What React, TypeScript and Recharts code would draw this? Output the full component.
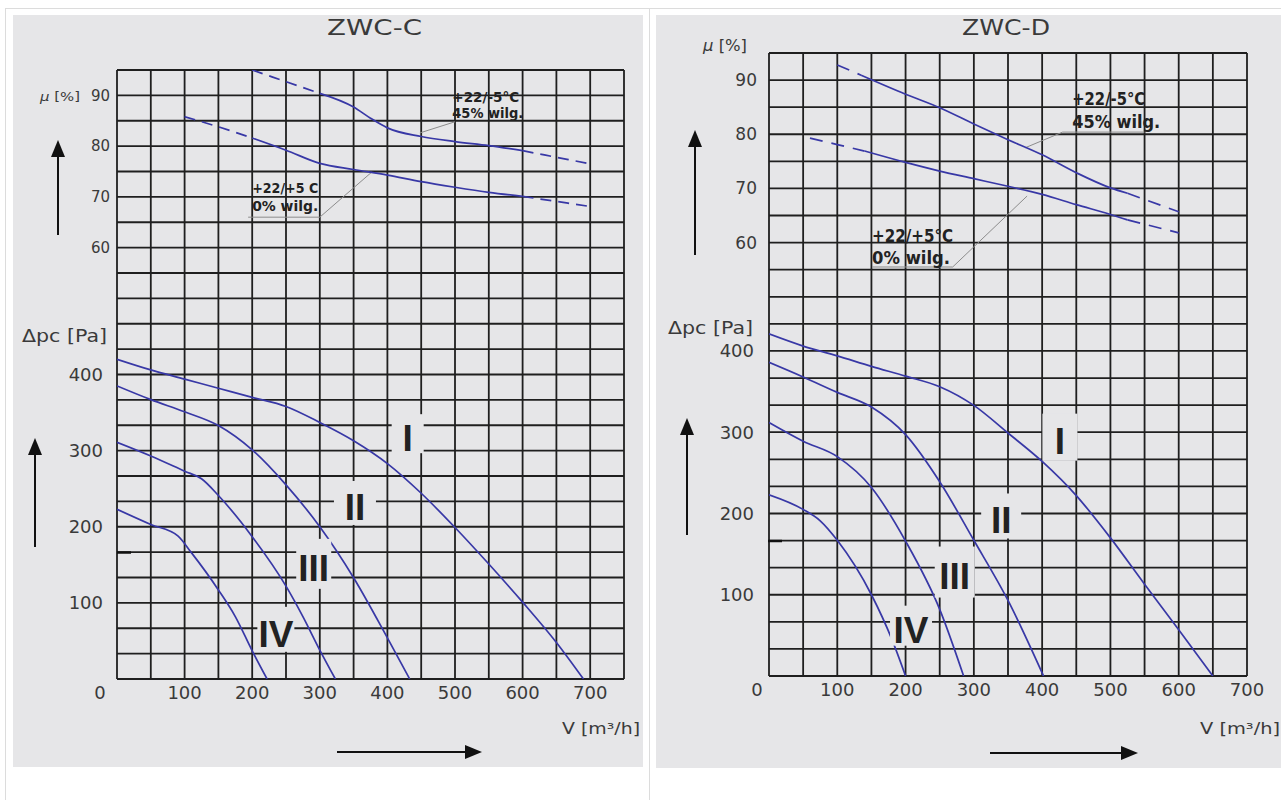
import React from 'react';
import { LineChart, Line, XAxis, YAxis, CartesianGrid, ReferenceDot, ReferenceLine } from 'recharts';

const PANEL = '#e6e6e8';
const GRID = '#1f1f1f';
const CURVE = '#3838a6';
const TEXT = '#3a3a3a';
const LEADER = '#8c8c8c';
const FONT = '"DejaVu Sans", "Liberation Sans", sans-serif';

// axes
const flowTicks = [0, 100, 200, 300, 400, 500, 600, 700];
const flowGridC = [0, 50, 100, 150, 200, 250, 300, 350, 400, 450, 500, 550, 600, 650, 700, 750];
const flowGridD = [0, 50, 100, 150, 200, 250, 300, 350, 400, 450, 500, 550, 600, 650, 700];
const muTicks = [60, 70, 80, 90];
const dpTicks = [100, 200, 300, 400];
const muGridC = [-25, -20, -15, -10, -5, 0, 5, 10, 15, 20, 25, 30, 35, 40, 45, 50, 55, 60, 65, 70, 75, 80, 85, 90, 95];
const muGridD = [-20, -15, -10, -5, 0, 5, 10, 15, 20, 25, 30, 35, 40, 45, 50, 55, 60, 65, 70, 75, 80, 85, 90, 95];

// ZWC-C  Δpc [Pa] vs V [m³/h]
const cFlowI = [0, 50, 100, 150, 200, 250, 300, 350, 400, 450, 500, 550, 600, 650, 690];
const cDpI = [420, 406, 394, 382, 370, 358, 337, 313, 283, 244, 199, 151, 101, 48, 0];
const cFlowII = [0, 50, 100, 150, 200, 250, 300, 350, 400, 433];
const cDpII = [385, 367, 351, 333, 301, 255, 200, 133, 54, 0];
const cFlowIII = [0, 50, 100, 125, 150, 200, 250, 275, 300, 323];
const cDpIII = [311, 293, 273, 263, 241, 187, 122, 82, 38, 0];
const cFlowIV = [0, 50, 90, 110, 150, 175, 200, 222];
const cDpIV = [223, 203, 188, 166, 117, 82, 37, 0];

// ZWC-C  μ [%]
const cMuWarmFlow = [200, 250, 300, 350, 375, 400, 450, 500, 550, 600, 650, 700];
const cMuWarm = [95, 92.7, 90.4, 87.7, 85.5, 83.6, 81.9, 80.9, 80.1, 79.1, 77.8, 76.5];
const cMuColdFlow = [100, 150, 200, 250, 300, 350, 400, 450, 500, 550, 600, 650, 700];
const cMuCold = [85.8, 83.8, 81.6, 79.2, 76.6, 75.4, 74.3, 73.0, 71.9, 70.9, 70.1, 69.1, 68.1];

// ZWC-D  Δpc [Pa] vs V [m³/h]
const dFlowI = [0, 50, 100, 150, 200, 250, 300, 350, 400, 450, 500, 550, 600, 650];
const dDpI = [421, 406, 394, 381, 369, 356, 333, 299, 264, 222, 170, 113, 57, 0];
const dFlowII = [0, 50, 100, 150, 200, 250, 300, 350, 402];
const dDpII = [386, 368, 349, 331, 297, 239, 167, 93, 0];
const dFlowIII = [0, 50, 100, 150, 200, 250, 285];
const dDpIII = [312, 289, 270, 232, 166, 82, 0];
const dFlowIV = [0, 50, 75, 100, 150, 180, 200];
const dDpIV = [223, 205, 191, 167, 100, 45, 0];

// ZWC-D  μ [%]
const dMuWarmFlow = [100, 135, 200, 250, 300, 350, 400, 450, 500, 525, 600];
const dMuWarm = [92.8, 90.9, 87.4, 84.9, 81.9, 79.0, 76.2, 72.9, 70.1, 69.1, 65.7];
const dMuColdFlow = [60, 100, 140, 200, 250, 300, 350, 400, 450, 500, 525, 600];
const dMuCold = [79.3, 78.1, 76.9, 74.8, 73.2, 71.8, 70.4, 68.9, 67.0, 65.2, 64.2, 61.8];

const pts = (xs: number[], ys: number[]) => xs.map((x, i) => ({ x, y: ys[i] }));
const part = (xs: number[], ys: number[], a: number, b: number) =>
  pts(xs, ys).filter((p) => p.x >= a && p.x <= b);

// two 1px-wide left axes -> margin.left = plot left - 2, xAxis 1px high -> margin.bottom - 1
const zwcC = {
  width: 650,
  height: 780,
  margin: { top: 70, right: 26, bottom: 100, left: 115 },
  flowMax: 750,
  dpMax: 800,
  muMin: -25,
  flowGrid: flowGridC,
  muGrid: muGridC,
  zeroShift: -17,
  muFont: 15,
  muMargin: 7,
  dpFont: 18,
  dpMargin: 13,
  dash: '11 7',
  dp: [
    { x: cFlowI, y: cDpI },
    { x: cFlowII, y: cDpII },
    { x: cFlowIII, y: cDpIII },
    { x: cFlowIV, y: cDpIV },
  ],
  mu: [
    { x: cMuWarmFlow, y: cMuWarm, solid: [300, 600] },
    { x: cMuColdFlow, y: cMuCold, solid: [200, 600] },
  ],
  romans: [
    { t: 'I', x: 430, y: 317, w: 32, h: 39 },
    { t: 'II', x: 352, y: 226, w: 42, h: 44 },
    { t: 'III', x: 291, y: 146, w: 35, h: 50 },
    { t: 'IV', x: 235, y: 60, w: 37, h: 45 },
  ],
  notes: [
    { x: 496, y: 88.7, fs: 14, lh: 16, lines: ['+22/-5°C', '45% wilg.'], widths: [67, 71] },
    { x: 200, y: 70.8, fs: 14, lh: 18, lines: ['+22/+5 C', '0% wilg.'], widths: [66, 66] },
  ],
  leaders: [
    [{ x: 500, y: 84.8 }, { x: 448, y: 82.6 }],
    [{ x: 194, y: 66.0 }, { x: 300, y: 66.0 }],
    [{ x: 300, y: 66.0 }, { x: 377, y: 74.9 }],
  ],
};

const zwcD = {
  width: 631,
  height: 780,
  margin: { top: 53, right: 34, bottom: 103, left: 117 },
  flowMax: 700,
  dpMax: 2300 / 3,
  muMin: -20,
  flowGrid: flowGridD,
  muGrid: muGridD,
  zeroShift: -12,
  muFont: 17,
  muMargin: 12,
  dpFont: 18,
  dpMargin: 14,
  dash: '13 9',
  dp: [
    { x: dFlowI, y: dDpI },
    { x: dFlowII, y: dDpII },
    { x: dFlowIII, y: dDpIII },
    { x: dFlowIV, y: dDpIV },
  ],
  mu: [
    { x: dMuWarmFlow, y: dMuWarm, solid: [135, 525] },
    { x: dMuColdFlow, y: dMuCold, solid: [140, 525] },
  ],
  romans: [
    { t: 'I', x: 426, y: 289, w: 35, h: 47 },
    { t: 'II', x: 340, y: 192, w: 40, h: 45 },
    { t: 'III', x: 272, y: 123, w: 40, h: 51 },
    { t: 'IV', x: 208, y: 57, w: 42, h: 40 },
  ],
  notes: [
    { x: 444, y: 85.4, fs: 17, lh: 23, lines: ['+22/-5°C', '45% wilg.'], widths: [73, 88] },
    { x: 151, y: 60.1, fs: 17, lh: 22, lines: ['+22/+5°C', '0% wilg.'], widths: [81, 78] },
  ],
  leaders: [
    [{ x: 550, y: 80.4 }, { x: 430, y: 80.4 }],
    [{ x: 430, y: 80.4 }, { x: 375, y: 77.5 }],
    [{ x: 151, y: 55.5 }, { x: 269, y: 55.5 }],
    [{ x: 269, y: 55.5 }, { x: 378, y: 68.6 }],
  ],
};

const FlowTick = (props: any) => {
  const { x, y, payload, shift } = props;
  return (
    <text
      x={x + (payload.value === 0 ? shift : 0)}
      y={y}
      dy="0.71em"
      textAnchor="middle"
      fill={TEXT}
      fontSize={18}
      fontFamily={FONT}
    >
      {payload.value}
    </text>
  );
};

function Diagram({ cfg }: { cfg: any }) {
  const lineProps = {
    type: 'monotone' as const,
    dataKey: 'y',
    stroke: CURVE,
    strokeWidth: 1.7,
    dot: false,
    activeDot: false,
    isAnimationActive: false,
  };
  return (
    <LineChart width={cfg.width} height={cfg.height} margin={cfg.margin} style={{ fontFamily: FONT }}>
      <CartesianGrid
        horizontalValues={cfg.muGrid}
        verticalValues={cfg.flowGrid}
        stroke={GRID}
        strokeWidth={1.8}
        fill="none"
      />
      <XAxis
        type="number"
        dataKey="x"
        domain={[0, cfg.flowMax]}
        ticks={flowTicks}
        interval={0}
        allowDataOverflow
        height={1}
        axisLine={false}
        tickLine={false}
        tickSize={0}
        tickMargin={7}
        tick={(p: any) => <FlowTick {...p} shift={cfg.zeroShift} />}
      />
      <YAxis
        type="number"
        domain={[cfg.muMin, 95]}
        ticks={muTicks}
        interval={0}
        allowDataOverflow
        width={1}
        axisLine={false}
        tickLine={false}
        tickSize={0}
        tickMargin={cfg.muMargin}
        tick={{ fill: TEXT, fontSize: cfg.muFont, fontFamily: FONT }}
      />
      <YAxis
        yAxisId="p"
        type="number"
        domain={[0, cfg.dpMax]}
        ticks={dpTicks}
        interval={0}
        allowDataOverflow
        width={1}
        axisLine={false}
        tickLine={false}
        tickSize={0}
        tickMargin={cfg.dpMargin}
        tick={{ fill: TEXT, fontSize: cfg.dpFont, fontFamily: FONT }}
      />

      {cfg.romans.map((r: any) => (
        <ReferenceDot
          key={r.t}
          yAxisId="p"
          x={r.x}
          y={r.y}
          r={0}
          shape={(p: any) => (
            <g>
              <rect x={p.cx - r.w / 2} y={p.cy - r.h / 2 - 4} width={r.w} height={r.h} fill={PANEL} />
              <text
                x={p.cx}
                y={p.cy}
                dy="0.36em"
                textAnchor="middle"
                fontFamily='"Liberation Sans", Arial, sans-serif'
                fontWeight="bold"
                fontSize={37}
                fill="#222"
              >
                {r.t}
              </text>
            </g>
          )}
        />
      ))}

      {cfg.leaders.map((s: any, i: number) => (
        <ReferenceLine key={'l' + i} segment={s} stroke={LEADER} strokeWidth={1} />
      ))}

      {cfg.dp.map((c: any, i: number) => (
        <Line key={'dp' + i} yAxisId="p" data={pts(c.x, c.y)} {...lineProps} />
      ))}

      {cfg.mu.map((c: any, i: number) => {
        const [a, b] = c.solid;
        return (
          <React.Fragment key={'mu' + i}>
            <Line data={part(c.x, c.y, c.x[0], a)} {...lineProps} strokeDasharray={cfg.dash} />
            <Line data={part(c.x, c.y, a, b)} {...lineProps} />
            <Line data={part(c.x, c.y, b, c.x[c.x.length - 1])} {...lineProps} strokeDasharray={cfg.dash} />
          </React.Fragment>
        );
      })}

      {cfg.notes.map((n: any, i: number) => (
        <ReferenceDot
          key={'n' + i}
          x={n.x}
          y={n.y}
          r={0}
          shape={(p: any) => (
            <g>
              {n.lines.map((l: string, j: number) => (
                <text
                  key={j}
                  x={p.cx}
                  y={p.cy + j * n.lh}
                  fontSize={n.fs}
                  fontFamily={FONT}
                  fontWeight="bold"
                  fill="#222"
                  textLength={n.widths[j]}
                  lengthAdjust="spacingAndGlyphs"
                >
                  {l}
                </text>
              ))}
            </g>
          )}
        />
      ))}
    </LineChart>
  );
}

const Arrow = ({ x1, y1, x2, y2 }: { x1: number; y1: number; x2: number; y2: number }) => {
  const dx = x2 - x1;
  const dy = y2 - y1;
  const len = Math.hypot(dx, dy);
  const ux = dx / len;
  const uy = dy / len;
  const bx = x2 - ux * 17;
  const by = y2 - uy * 17;
  return (
    <g>
      <line x1={x1} y1={y1} x2={bx} y2={by} stroke="#111" strokeWidth={2} />
      <polygon
        points={`${x2},${y2} ${bx - uy * 7},${by + ux * 7} ${bx + uy * 7},${by - ux * 7}`}
        fill="#111"
      />
    </g>
  );
};

const Txt = ({ x, y, size, w, children, weight }: any) => (
  <text
    x={x}
    y={y}
    fontSize={size}
    fontFamily={FONT}
    fontWeight={weight || 'normal'}
    fill={TEXT}
    textLength={w}
    lengthAdjust="spacingAndGlyphs"
  >
    {children}
  </text>
);

export default function App() {
  return (
    <div style={{ position: 'absolute', left: 0, top: 0, width: 1281, height: 800, background: '#fff', overflow: 'hidden' }}>
      <div style={{ position: 'absolute', left: 13, top: 15, width: 630, height: 752, background: PANEL }} />
      <div style={{ position: 'absolute', left: 656, top: 15, width: 625, height: 753, background: PANEL }} />

      <div style={{ position: 'absolute', left: 0, top: 0 }}>
        <Diagram cfg={zwcC} />
      </div>
      <div style={{ position: 'absolute', left: 650, top: 0 }}>
        <Diagram cfg={zwcD} />
      </div>

      <svg
        width={1281}
        height={800}
        style={{ position: 'absolute', left: 0, top: 0, pointerEvents: 'none' }}
      >
        <line x1={5} y1={8.5} x2={1281} y2={8.5} stroke="#dcdcdc" strokeWidth={1} />
        <line x1={5.5} y1={8} x2={5.5} y2={800} stroke="#dcdcdc" strokeWidth={1} />
        <line x1={649.5} y1={8} x2={649.5} y2={800} stroke="#dcdcdc" strokeWidth={1} />

        <Txt x={327} y={35} size={21} w={95}>ZWC-C</Txt>
        <Txt x={962} y={35} size={21} w={88}>ZWC-D</Txt>

        <Txt x={40} y={101} size={13} w={40}>
          <tspan fontStyle="italic">μ</tspan> [%]
        </Txt>
        <Txt x={22} y={342} size={17} w={85}>Δpc [Pa]</Txt>
        <Txt x={562} y={734} size={16} w={78}>V [m³/h]</Txt>

        <Txt x={703} y={51} size={15} w={44}>
          <tspan fontStyle="italic">μ</tspan> [%]
        </Txt>
        <Txt x={668} y={334} size={17} w={85}>Δpc [Pa]</Txt>
        <Txt x={1200} y={734} size={16} w={80}>V [m³/h]</Txt>

        <Arrow x1={58} y1={235} x2={58} y2={140} />
        <Arrow x1={35} y1={547} x2={35} y2={438} />
        <Arrow x1={337} y1={752} x2={482} y2={752} />
        <Arrow x1={695} y1={255} x2={695} y2={130} />
        <Arrow x1={687} y1={535} x2={687} y2={418} />
        <Arrow x1={990} y1={753} x2={1138} y2={753} />

        <line x1={117} y1={552.5} x2={131} y2={552.5} stroke="#111" strokeWidth={2.5} />
        <line x1={768} y1={541} x2={782} y2={541} stroke="#111" strokeWidth={2.5} />
      </svg>
    </div>
  );
}
